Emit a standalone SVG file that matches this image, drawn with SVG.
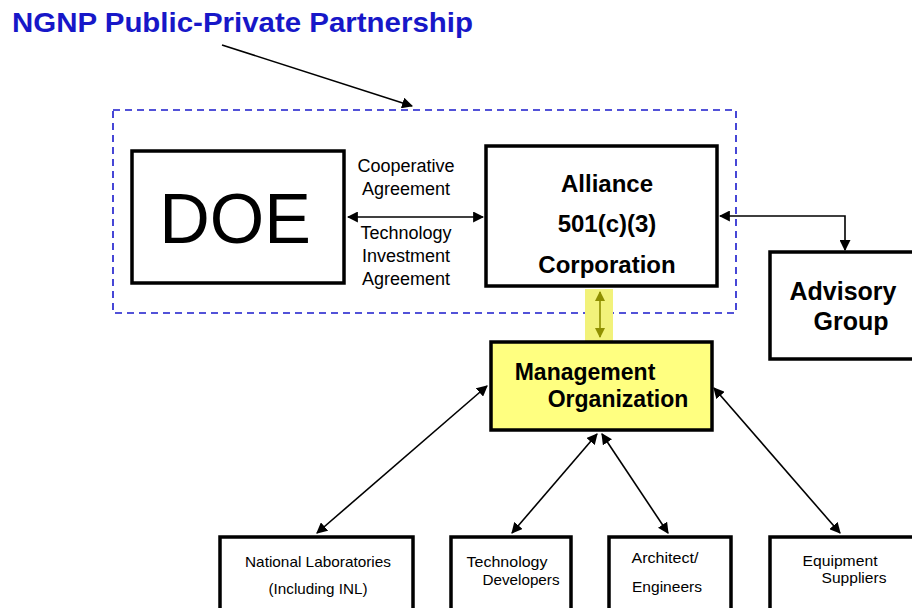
<svg xmlns="http://www.w3.org/2000/svg" width="912" height="608" viewBox="0 0 912 608">
  <defs>
    <marker id="ah" viewBox="0 0 10 10" refX="9" refY="5" markerWidth="11" markerHeight="11" markerUnits="userSpaceOnUse" orient="auto-start-reverse">
      <path d="M0,0 L10,5 L0,10 z" fill="#000"/>
    </marker>
    <marker id="ahy" viewBox="0 0 10 10" refX="9" refY="5" markerWidth="10" markerHeight="10" markerUnits="userSpaceOnUse" orient="auto-start-reverse">
      <path d="M0,0 L10,5 L0,10 z" fill="#8f8f00"/>
    </marker>
  </defs>
  <style>
    .box { fill: #fff; stroke: #000; stroke-width: 3.5; }
    .mgmt { fill: #ffff80; stroke: #000; stroke-width: 3.5; }
    .conn { fill: none; stroke: #000; stroke-width: 1.6; }
    .t { font-family: "Liberation Sans", Arial, sans-serif; fill: #000; text-anchor: middle; }
    .b { font-weight: bold; }
    .small { font-size: 15px; }
  </style>
  <rect width="912" height="608" fill="#fff"/>

  <g id="title">
    <text x="12" y="32" font-family="Liberation Sans, Arial, sans-serif" font-weight="bold" font-size="27" fill="#1717c8" textLength="461" lengthAdjust="spacingAndGlyphs">NGNP Public-Private Partnership</text>
  </g>

  <g id="partnership-boundary">
    <rect x="113" y="110" width="623" height="203" fill="none" stroke="#1a1acc" stroke-width="1.6" stroke-dasharray="7,5"/>
  </g>

  <g id="connectors">
    <line class="conn" x1="222" y1="45" x2="412" y2="106" marker-end="url(#ah)"/>
    <line class="conn" x1="348" y1="217" x2="483" y2="217" marker-start="url(#ah)" marker-end="url(#ah)"/>
    <polyline class="conn" points="720,216 845,216 845,250" marker-start="url(#ah)" marker-end="url(#ah)"/>
    <rect x="585" y="289" width="28" height="53" fill="#f2f27a"/>
    <line x1="600" y1="292" x2="600" y2="337" stroke="#8f8f00" stroke-width="1.6" marker-start="url(#ahy)" marker-end="url(#ahy)"/>
    <line class="conn" x1="487" y1="386" x2="317" y2="533" marker-start="url(#ah)" marker-end="url(#ah)"/>
    <line class="conn" x1="597" y1="434" x2="512" y2="533" marker-start="url(#ah)" marker-end="url(#ah)"/>
    <line class="conn" x1="602" y1="434" x2="668" y2="533" marker-start="url(#ah)" marker-end="url(#ah)"/>
    <line class="conn" x1="714" y1="388" x2="840" y2="533" marker-start="url(#ah)" marker-end="url(#ah)"/>
  </g>

  <g id="agreement-labels">
    <text class="t" x="406" y="172" font-size="18">Cooperative</text>
    <text class="t" x="406" y="195" font-size="18">Agreement</text>
    <text class="t" x="406" y="239" font-size="18">Technology</text>
    <text class="t" x="406" y="262" font-size="18">Investment</text>
    <text class="t" x="406" y="285" font-size="18">Agreement</text>
  </g>

  <g id="doe">
    <rect class="box" x="132" y="151" width="212" height="132"/>
    <text class="t" x="235" y="243" font-size="70">DOE</text>
  </g>

  <g id="alliance">
    <rect class="box" x="486" y="146" width="231" height="140"/>
    <text class="t b" x="607" y="192" font-size="24">Alliance</text>
    <text class="t b" x="607" y="232" font-size="24">501(c)(3)</text>
    <text class="t b" x="607" y="273" font-size="24">Corporation</text>
  </g>

  <g id="advisory">
    <rect class="box" x="770" y="252" width="150" height="107"/>
    <text class="t b" x="843" y="300" font-size="25">Advisory</text>
    <text class="t b" x="851" y="330" font-size="25">Group</text>
  </g>

  <g id="management">
    <rect class="mgmt" x="491" y="342" width="221" height="88"/>
    <text class="t b" x="585" y="380" font-size="23">Management</text>
    <text class="t b" x="618" y="407" font-size="23">Organization</text>
  </g>

  <g id="national-labs">
    <rect class="box" x="220" y="537" width="193" height="80"/>
    <text class="t small" x="318" y="567" textLength="146" lengthAdjust="spacingAndGlyphs">National Laboratories</text>
    <text class="t small" x="318" y="594" textLength="99" lengthAdjust="spacingAndGlyphs">(Including INL)</text>
  </g>

  <g id="tech-developers">
    <rect class="box" x="451" y="537" width="120" height="80"/>
    <text class="t small" x="507" y="567" textLength="81" lengthAdjust="spacingAndGlyphs">Technology</text>
    <text class="t small" x="521" y="585" textLength="77" lengthAdjust="spacingAndGlyphs">Developers</text>
  </g>

  <g id="architect-engineers">
    <rect class="box" x="609" y="537" width="122" height="80"/>
    <text class="t small" x="665" y="563" textLength="67" lengthAdjust="spacingAndGlyphs">Architect/</text>
    <text class="t small" x="667" y="592" textLength="70" lengthAdjust="spacingAndGlyphs">Engineers</text>
  </g>

  <g id="equipment-suppliers">
    <rect class="box" x="770" y="537" width="150" height="80"/>
    <text class="t small" x="840" y="566" textLength="75" lengthAdjust="spacingAndGlyphs">Equipment</text>
    <text class="t small" x="854" y="583" textLength="65" lengthAdjust="spacingAndGlyphs">Suppliers</text>
  </g>
</svg>
